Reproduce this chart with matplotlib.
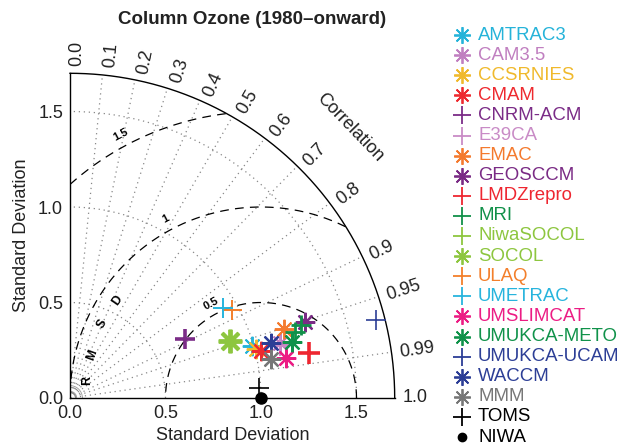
import numpy as np
import matplotlib.pyplot as plt

plt.rcParams['font.family'] = ['Liberation Sans', 'DejaVu Sans']

# normalised standard deviation and correlation against the NIWA reference
models = ['AMTRAC3', 'CAM3.5', 'CCSRNIES', 'CMAM', 'CNRM-ACM', 'E39CA', 'EMAC',
          'GEOSCCM', 'LMDZrepro', 'MRI', 'MRI', 'NiwaSOCOL', 'SOCOL', 'ULAQ',
          'UMETRAC', 'UMSLIMCAT', 'UMUKCA-METO', 'UMUKCA-UCAM', 'WACCM',
          'MMM', 'TOMS', 'NIWA']
std = [0.988, 1.138, 1.008, 1.030, 0.675, 1.133, 1.176,
       1.293, 1.272, 1.229, 1.270, 0.892, 0.892, 0.966,
       0.928, 1.149, 1.196, 1.652, 1.089,
       1.069, 0.991, 1.000]
corr = [0.962, 0.967, 0.967, 0.971, 0.889, 0.971, 0.952,
        0.951, 0.983, 0.960, 0.953, 0.942, 0.942, 0.879,
        0.862, 0.983, 0.970, 0.969, 0.964,
        0.982, 0.9987, 1.000]
markers = ['ast', 'ast', 'ast', 'ast', '+', '+', 'ast',
           'ast', '+', '+', '+', '+', 'ast', '+',
           '+', 'ast', 'ast', '+', 'ast',
           'ast', '+', 'o']
colors = ['#25b3d9', '#c07fc0', '#f0b92c', '#ee2a2f', '#7b2c87', '#c98bc6', '#f47a2e',
          '#7a2b85', '#ee2630', '#119049', '#119049', '#8dc63f', '#8dc63f', '#f37f2b',
          '#27b4dd', '#ec1c84', '#10924a', '#2c3e96', '#2c3e96',
          '#777777', '#000000', '#000000']
widths = [1.4, 1.4, 1.4, 1.6, 2.6, 1.4, 1.4,
          1.6, 2.6, 2.0, 2.0, 1.4, 2.8, 1.4,
          1.4, 1.6, 1.6, 1.2, 1.6,
          1.6, 1.2, 1.0]
sizes = [14, 14, 14, 14, 15, 14, 14,
         14, 16, 15, 15, 14, 17, 14,
         14, 14, 14, 15, 14,
         14, 15, 8]

corr_ticks = [0.0, 0.1, 0.2, 0.3, 0.4, 0.5, 0.6, 0.7, 0.8, 0.9, 0.95, 0.99, 1.0]
corr_labels = ['0.0', '0.1', '0.2', '0.3', '0.4', '0.5', '0.6', '0.7', '0.8', '0.9',
               '0.95', '0.99', '1.0']
rmsd_levels = [0.5, 1.0, 1.5]
sd_max = 1.7

ASTERISK = (8, 2, 0)

fig = plt.figure(figsize=(6.25, 4.46), dpi=100)
ax = fig.add_axes([70 / 625, 48 / 446, 324.7 / 625, 324.7 / 446])
ax.set_xlim(0, sd_max)
ax.set_ylim(0, sd_max)
for s in ['top', 'right']:
    ax.spines[s].set_visible(False)
for s in ['left', 'bottom']:
    ax.spines[s].set_linewidth(1.0)

ticks = [0.0, 0.5, 1.0, 1.5]
ax.set_xticks(ticks)
ax.set_yticks(ticks)
ax.set_xticklabels(['%.1f' % t for t in ticks])
ax.set_yticklabels(['%.1f' % t for t in ticks])
ax.tick_params(length=0, pad=5, labelsize=13, colors='#222222')
ax.set_xlabel('Standard Deviation', fontsize=13, color='#222222', labelpad=4)
ax.set_ylabel('Standard Deviation', fontsize=13, color='#222222', labelpad=6)

# outer arc
t = np.linspace(0, np.pi / 2, 300)
ax.plot(sd_max * np.cos(t), sd_max * np.sin(t), color='k', lw=1.0, clip_on=False)

# standard deviation arcs
for r in [0.5, 1.0, 1.5]:
    ax.plot(r * np.cos(t), r * np.sin(t), color='#888888', lw=0.9, ls=(0, (1, 3)))
for r in [0.035, 0.065]:
    ax.plot(r * np.cos(t), r * np.sin(t), color='#999999', lw=0.6)

# correlation rays and labels
for c, lbl in zip(corr_ticks, corr_labels):
    a = np.arccos(c)
    if 0 < c < 1:
        ax.plot([0, sd_max * np.cos(a)], [0, sd_max * np.sin(a)],
                color='#888888', lw=0.9, ls=(0, (1, 3)))
    d = 0.035 * np.sin(a)
    tx = 1.74 * np.cos(a) + d * np.sin(a)
    ty = 1.74 * np.sin(a) - d * np.cos(a)
    ax.text(tx, ty, lbl, rotation=np.degrees(a), rotation_mode='anchor',
            ha='left', va='center', fontsize=13, color='#222222', clip_on=False)
ax.text(2.04 * np.cos(np.radians(44)), 2.04 * np.sin(np.radians(44)), 'Correlation',
        rotation=-46, rotation_mode='anchor', ha='center', va='center',
        fontsize=13, color='#222222', clip_on=False)

# centred RMS difference circles around the reference
th = np.linspace(0, np.pi, 600)
for r in rmsd_levels:
    x = 1 + r * np.cos(th)
    y = r * np.sin(th)
    ok = (x >= 0) & (np.hypot(x, y) <= sd_max)
    x = np.where(ok, x, np.nan)
    y = np.where(ok, y, np.nan)
    ax.plot(x, y, color='k', lw=0.9, dashes=(7, 5))
    a = np.radians(118)
    ax.text(1 + (r + 0.06) * np.cos(a), (r + 0.06) * np.sin(a), '%g' % r,
            rotation=28, ha='center', va='center', fontsize=8, fontweight='bold')

for ch, px, py, rot in [('R', 0.09, 0.09, 90), ('M', 0.115, 0.225, 70),
                        ('S', 0.17, 0.39, 60), ('D', 0.25, 0.51, 55)]:
    ax.text(px, py, ch, rotation=rot, ha='center', va='center',
            fontsize=9, fontweight='bold')

# model points
for s, c, m, col, w, ms in zip(std, corr, markers, colors, widths, sizes):
    a = np.arccos(c)
    x, y = s * np.cos(a), s * np.sin(a)
    if m == 'o':
        ax.plot(x, y, 'o', color=col, ms=ms, clip_on=False, zorder=5)
    elif m == '+':
        ax.plot(x, y, '+', color=col, ms=ms, mew=w, clip_on=False, zorder=4)
    else:
        ax.plot(x, y, marker=ASTERISK, color=col, ms=ms, mew=w, ls='none',
                clip_on=False, zorder=4)

# legend column
leg = fig.add_axes([0, 0, 1, 1])
leg.set_xlim(0, 625)
leg.set_ylim(446, 0)
leg.axis('off')
seen = []
for name, m, col in zip(models, markers, colors):
    if name in seen:
        continue
    seen.append(name)
    yy = 35 + (len(seen) - 1) * 20.1
    if m == 'o':
        leg.plot(462, yy, 'o', color=col, ms=6)
    elif m == '+':
        leg.plot(462, yy, '+', color=col, ms=13, mew=1.3)
    else:
        leg.plot(462, yy, marker=ASTERISK, color=col, ms=12, mew=1.3, ls='none')
    leg.text(478, yy, name, color=col, fontsize=13.4, va='center', ha='left')

fig.text(252 / 625, 1 - 20 / 446, 'Column Ozone (1980\u2013onward)',
         ha='center', va='center', fontsize=13.5, fontweight='bold', color='#222222')

fig.savefig('out.png', dpi=100)
